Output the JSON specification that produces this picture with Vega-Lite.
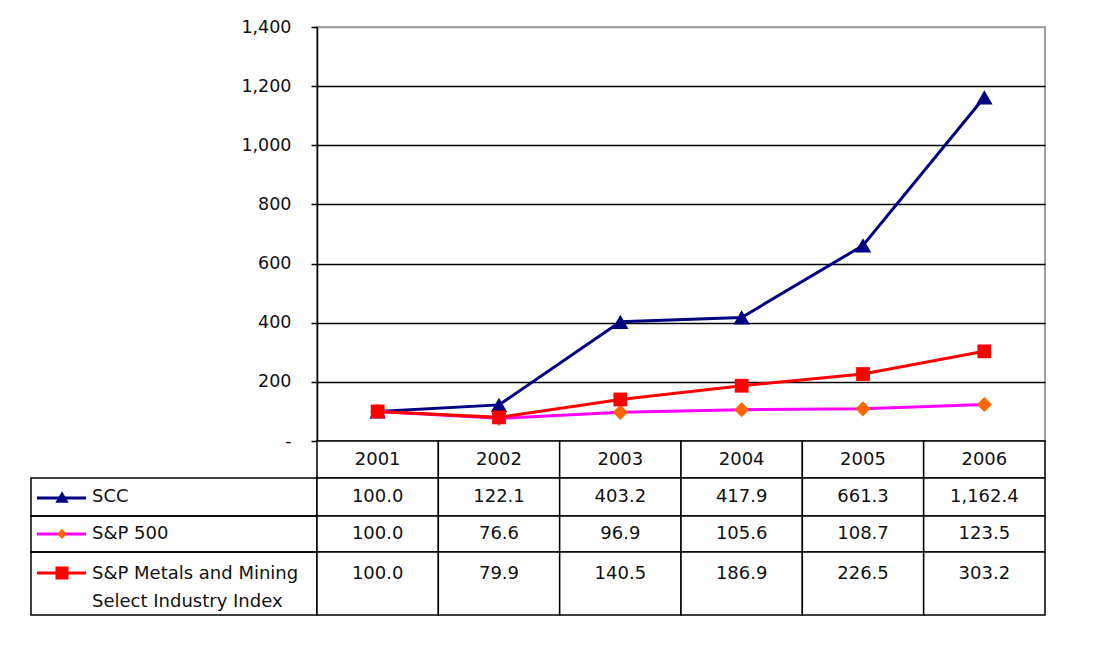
{
  "$schema": "https://vega.github.io/schema/vega-lite/v6.json",
  "padding": {"left": 30, "top": 17, "right": 0, "bottom": 0},
  "background": "white",
  "columns": 2,
  "spacing": 0,
  "bounds": "flush",
  "datasets": {
    "idx": [
      {"year": "2001", "series": "SCC", "value": 100.0},
      {"year": "2002", "series": "SCC", "value": 122.1},
      {"year": "2003", "series": "SCC", "value": 403.2},
      {"year": "2004", "series": "SCC", "value": 417.9},
      {"year": "2005", "series": "SCC", "value": 661.3},
      {"year": "2006", "series": "SCC", "value": 1162.4},
      {"year": "2001", "series": "S&P 500", "value": 100.0},
      {"year": "2002", "series": "S&P 500", "value": 76.6},
      {"year": "2003", "series": "S&P 500", "value": 96.9},
      {"year": "2004", "series": "S&P 500", "value": 105.6},
      {"year": "2005", "series": "S&P 500", "value": 108.7},
      {"year": "2006", "series": "S&P 500", "value": 123.5},
      {"year": "2001", "series": "S&P Metals and Mining Select Industry Index", "value": 100.0},
      {"year": "2002", "series": "S&P Metals and Mining Select Industry Index", "value": 79.9},
      {"year": "2003", "series": "S&P Metals and Mining Select Industry Index", "value": 140.5},
      {"year": "2004", "series": "S&P Metals and Mining Select Industry Index", "value": 186.9},
      {"year": "2005", "series": "S&P Metals and Mining Select Industry Index", "value": 226.5},
      {"year": "2006", "series": "S&P Metals and Mining Select Industry Index", "value": 303.2}
    ]
  },
  "config": {
    "view": {"stroke": null},
    "font": "DejaVu Sans",
    "text": {"font": "DejaVu Sans", "fontSize": 18, "fill": "#111111"},
    "axis": {
      "labelFont": "DejaVu Sans",
      "labelFontSize": 17.5,
      "labelColor": "#111111",
      "domainColor": "black",
      "domainWidth": 1.5,
      "tickColor": "black",
      "tickWidth": 1.5,
      "tickSize": 6,
      "labelPadding": 20,
      "gridWidth": 1.3
    }
  },
  "concat": [
    {
      "width": 286, "height": 414,
      "data": {"values": [{}]},
      "mark": "text",
      "encoding": {"text": {"value": ""}}
    },
    {
      "width": 728, "height": 414,
      "data": {"name": "idx"},
      "view": {"stroke": "#a0a0a0", "strokeWidth": 2},
      "encoding": {
        "x": {"field": "year", "type": "ordinal", "axis": null, "scale": {"type": "point", "padding": 0.5}},
        "y": {
          "field": "value", "type": "quantitative",
          "scale": {"domain": [0, 1400], "nice": false},
          "axis": {
            "title": null,
            "values": [0, 200, 400, 600, 800, 1000, 1200, 1400],
            "labelExpr": "datum.value == 0 ? '-' : format(datum.value, ',')",
            "grid": true,
            "gridColor": {"condition": {"test": "datum.value == 1400", "value": "#a0a0a0"}, "value": "black"}
          }
        }
      },
      "layer": [
        {
          "mark": {"type": "line", "strokeWidth": 3},
          "encoding": {
            "stroke": {
              "field": "series", "type": "nominal", "legend": null,
              "scale": {"domain": ["SCC", "S&P 500", "S&P Metals and Mining Select Industry Index"], "range": ["#000080", "#FF00FF", "#FF0000"]}
            }
          }
        },
        {
          "mark": {"type": "point", "filled": true, "opacity": 1},
          "encoding": {
            "fill": {
              "field": "series", "type": "nominal", "legend": null,
              "scale": {"domain": ["SCC", "S&P 500", "S&P Metals and Mining Select Industry Index"], "range": ["#000080", "#FF6600", "#FF0000"]}
            },
            "shape": {
              "field": "series", "type": "nominal", "legend": null,
              "scale": {"domain": ["SCC", "S&P 500", "S&P Metals and Mining Select Industry Index"], "range": ["triangle-up", "diamond", "square"]}
            },
            "size": {
              "field": "series", "type": "ordinal", "legend": null,
              "scale": {"domain": ["SCC", "S&P 500", "S&P Metals and Mining Select Industry Index"], "range": [270, 190, 280]}
            }
          }
        }
      ]
    },
    {
      "width": 286, "height": 37,
      "data": {"values": [{}]},
      "mark": "text",
      "encoding": {"text": {"value": ""}}
    },
    {
      "width": 728, "height": 37,
      "data": {"name": "idx"},
      "transform": [{"filter": "datum.series == 'SCC'"}],
      "encoding": {
        "x": {"field": "year", "type": "ordinal", "axis": null, "scale": {"type": "band", "paddingInner": 0, "paddingOuter": 0}}
      },
      "layer": [
        {"mark": {"type": "rect", "fill": "white", "stroke": "black", "strokeWidth": 1.5}},
        {"mark": {"type": "text"}, "encoding": {"text": {"field": "year"}}}
      ]
    },
    {
      "width": 286, "height": 38,
      "data": {"values": [{"series": "SCC"}]},
      "view": {"stroke": "black", "strokeWidth": 1.5},
      "layer": [
        {"mark": {"type": "rule", "color": "#000080", "strokeWidth": 3}, "encoding": {"x": {"value": 6}, "x2": {"value": 55}, "y": {"value": 20}}},
        {"mark": {"type": "point", "shape": "triangle-up", "filled": true, "color": "#000080", "opacity": 1, "size": 180}, "encoding": {"x": {"value": 31}, "y": {"value": 19}}},
        {"mark": {"type": "text", "align": "left"}, "encoding": {"x": {"value": 61}, "text": {"field": "series"}}}
      ]
    },
    {
      "width": 728, "height": 38,
      "data": {"name": "idx"},
      "transform": [{"filter": "datum.series == 'SCC'"}],
      "encoding": {
        "x": {"field": "year", "type": "ordinal", "axis": null, "scale": {"type": "band", "paddingInner": 0, "paddingOuter": 0}}
      },
      "layer": [
        {"mark": {"type": "rect", "fill": "white", "stroke": "black", "strokeWidth": 1.5}},
        {"mark": {"type": "text"}, "encoding": {"text": {"field": "value", "format": ",.1f"}}}
      ]
    },
    {
      "width": 286, "height": 36,
      "data": {"values": [{"series": "S&P 500"}]},
      "view": {"stroke": "black", "strokeWidth": 1.5},
      "layer": [
        {"mark": {"type": "rule", "color": "#FF00FF", "strokeWidth": 3}, "encoding": {"x": {"value": 6}, "x2": {"value": 55}, "y": {"value": 18}}},
        {"mark": {"type": "point", "shape": "diamond", "filled": true, "color": "#FF6600", "opacity": 1, "size": 100}, "encoding": {"x": {"value": 31}, "y": {"value": 18}}},
        {"mark": {"type": "text", "align": "left"}, "encoding": {"x": {"value": 61}, "text": {"field": "series"}}}
      ]
    },
    {
      "width": 728, "height": 36,
      "data": {"name": "idx"},
      "transform": [{"filter": "datum.series == 'S&P 500'"}],
      "encoding": {
        "x": {"field": "year", "type": "ordinal", "axis": null, "scale": {"type": "band", "paddingInner": 0, "paddingOuter": 0}}
      },
      "layer": [
        {"mark": {"type": "rect", "fill": "white", "stroke": "black", "strokeWidth": 1.5}},
        {"mark": {"type": "text"}, "encoding": {"text": {"field": "value", "format": ",.1f"}}}
      ]
    },
    {
      "width": 286, "height": 63,
      "data": {"values": [{"series": "S&P Metals and Mining Select Industry Index"}]},
      "view": {"stroke": "black", "strokeWidth": 1.5},
      "layer": [
        {"mark": {"type": "rule", "color": "#FF0000", "strokeWidth": 3}, "encoding": {"x": {"value": 6}, "x2": {"value": 55}, "y": {"value": 21}}},
        {"mark": {"type": "point", "shape": "square", "filled": true, "color": "#FF0000", "opacity": 1, "size": 170}, "encoding": {"x": {"value": 31}, "y": {"value": 21}}},
        {"mark": {"type": "text", "align": "left", "lineHeight": 28, "dy": -10}, "encoding": {"x": {"value": 61}, "text": {"value": ["S&P Metals and Mining", "Select Industry Index"]}}}
      ]
    },
    {
      "width": 728, "height": 63,
      "data": {"name": "idx"},
      "transform": [{"filter": "datum.series == 'S&P Metals and Mining Select Industry Index'"}],
      "encoding": {
        "x": {"field": "year", "type": "ordinal", "axis": null, "scale": {"type": "band", "paddingInner": 0, "paddingOuter": 0}}
      },
      "layer": [
        {"mark": {"type": "rect", "fill": "white", "stroke": "black", "strokeWidth": 1.5}},
        {"mark": {"type": "text", "dy": -10}, "encoding": {"text": {"field": "value", "format": ",.1f"}}}
      ]
    }
  ]
}
